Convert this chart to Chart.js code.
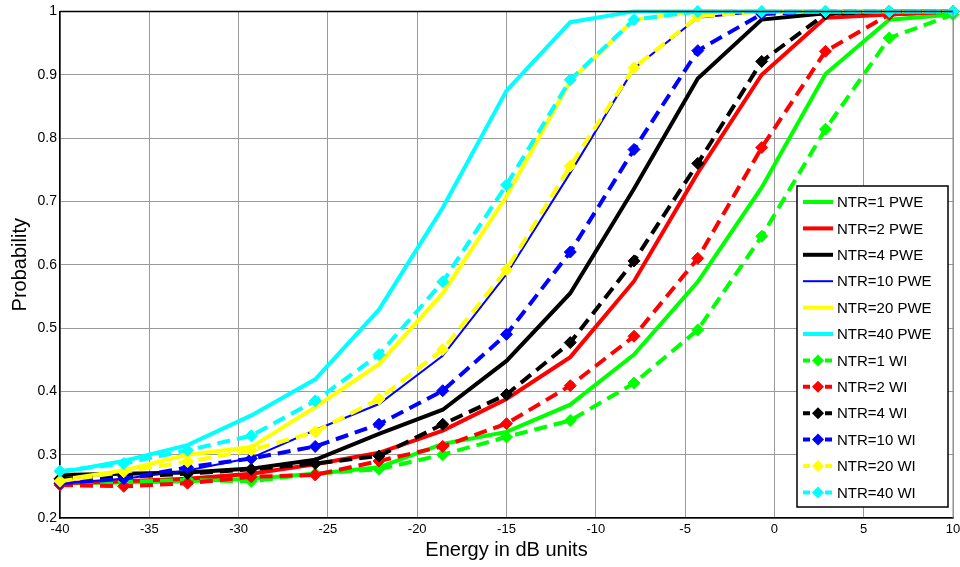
<!DOCTYPE html>
<html>
<head>
<meta charset="utf-8">
<script src="https://cdn.jsdelivr.net/npm/chart.js@4.4.0/dist/chart.umd.min.js"></script>
<style>
  body { margin: 0; background: #fff; }
  #wrap { width: 960px; height: 567px; }
</style>
</head>
<body>
<div id="wrap"><canvas id="chart" width="960" height="567"></canvas></div>
<script>
// x positions (dB)
let energy = [-40, -36.43, -32.86, -29.29, -25.71, -22.14, -18.57, -15, -11.43, -7.86, -4.29, -0.71, 2.86, 6.43, 10];

let xTicks = [-40, -35, -30, -25, -20, -15, -10, -5, 0, 5, 10];
let yTicks = [0.2, 0.3, 0.4, 0.5, 0.6, 0.7, 0.8, 0.9, 1];

// PWE curves (solid)
let pwe1  = [0.255, 0.256, 0.258, 0.262, 0.270, 0.280, 0.317, 0.336, 0.379, 0.458, 0.573, 0.722, 0.901, 0.987, 0.995];
let pwe2  = [0.255, 0.258, 0.262, 0.270, 0.285, 0.303, 0.338, 0.388, 0.454, 0.574, 0.745, 0.900, 0.990, 0.995, 1.0];
let pwe4  = [0.268, 0.270, 0.272, 0.278, 0.292, 0.333, 0.371, 0.448, 0.555, 0.720, 0.894, 0.987, 0.997, 1.0, 1.0];
let pwe10 = [0.255, 0.262, 0.275, 0.295, 0.339, 0.380, 0.456, 0.585, 0.745, 0.910, 0.990, 1.0, 1.0, 1.0, 1.0];
let pwe20 = [0.260, 0.275, 0.300, 0.312, 0.375, 0.443, 0.555, 0.708, 0.890, 0.987, 1.0, 1.0, 1.0, 1.0, 1.0];
let pwe40 = [0.272, 0.290, 0.315, 0.362, 0.419, 0.529, 0.690, 0.875, 0.983, 1.0, 1.0, 1.0, 1.0, 1.0, 1.0];

// WI curves (dashed with diamonds)
let wi1  = [0.255, 0.257, 0.260, 0.258, 0.270, 0.277, 0.300, 0.328, 0.354, 0.413, 0.497, 0.645, 0.814, 0.958, 0.995];
let wi2  = [0.252, 0.250, 0.255, 0.265, 0.268, 0.290, 0.313, 0.349, 0.409, 0.487, 0.610, 0.785, 0.937, 0.995, 1.0];
let wi4  = [0.262, 0.265, 0.270, 0.277, 0.286, 0.298, 0.348, 0.395, 0.477, 0.606, 0.760, 0.921, 0.996, 1.0, 1.0];
let wi10 = [0.255, 0.262, 0.280, 0.294, 0.313, 0.348, 0.401, 0.490, 0.620, 0.782, 0.938, 0.996, 1.0, 1.0, 1.0];
let wi20 = [0.258, 0.273, 0.289, 0.307, 0.336, 0.388, 0.466, 0.592, 0.756, 0.911, 0.992, 1.0, 1.0, 1.0, 1.0];
let wi40 = [0.274, 0.286, 0.307, 0.330, 0.385, 0.458, 0.573, 0.726, 0.892, 0.987, 1.0, 1.0, 1.0, 1.0, 1.0];

let seriesNames = ['NTR=1 PWE', 'NTR=2 PWE', 'NTR=4 PWE', 'NTR=10 PWE', 'NTR=20 PWE', 'NTR=40 PWE',
                   'NTR=1 WI', 'NTR=2 WI', 'NTR=4 WI', 'NTR=10 WI', 'NTR=20 WI', 'NTR=40 WI'];
let seriesData = [pwe1, pwe2, pwe4, pwe10, pwe20, pwe40, wi1, wi2, wi4, wi10, wi20, wi40];
let colors = ['#00ff00', '#ff0000', '#000000', '#0000ff', '#ffff00', '#00ffff'];

let datasets = [];
for (let i = 0; i < seriesData.length; i++) {
    let isWI = i >= 6;
    let color = colors[i % 6];
    datasets.push({
        label: seriesNames[i],
        data: seriesData[i].map((v, k) => ({ x: energy[k], y: v })),
        borderColor: color,
        backgroundColor: color,
        borderWidth: i == 3 ? 2 : 4,
        borderDash: isWI ? [13, 7] : [],
        pointStyle: 'rectRot',
        pointRadius: isWI ? 6 : 0,
        pointHoverRadius: isWI ? 6 : 0,
        pointBorderWidth: 1,
        tension: 0,
        clip: false,
        order: 20 - i
    });
}

// box around the plot + legend inside the axes
const boxAndLegend = {
    id: 'boxAndLegend',
    afterDatasetsDraw(chart) {
        const ctx = chart.ctx;
        const a = chart.chartArea;
        ctx.save();
        ctx.lineWidth = 1.5;
        ctx.strokeStyle = '#000';
        ctx.beginPath();
        ctx.moveTo(a.left, a.top);
        ctx.lineTo(a.right, a.top);
        ctx.stroke();
        ctx.strokeStyle = '#8a8a8a';
        ctx.lineWidth = 1;
        ctx.beginPath();
        ctx.moveTo(a.right, a.top);
        ctx.lineTo(a.right, a.bottom);
        ctx.stroke();

        let lx = 797, ly = 186, lw = 151, lh = 321;
        ctx.fillStyle = '#fff';
        ctx.fillRect(lx, ly, lw, lh);
        ctx.strokeStyle = '#000';
        ctx.lineWidth = 1.5;
        ctx.strokeRect(lx, ly, lw, lh);

        ctx.font = '15px "Liberation Sans", Arial, sans-serif';
        ctx.textBaseline = 'middle';
        for (let i = 0; i < datasets.length; i++) {
            let ds = datasets[i];
            let y = 202 + i * 26.4;
            ctx.strokeStyle = ds.borderColor;
            ctx.lineWidth = ds.borderWidth;
            ctx.setLineDash(i >= 6 ? [7, 4] : []);
            ctx.beginPath();
            ctx.moveTo(803, y);
            ctx.lineTo(833, y);
            ctx.stroke();
            ctx.setLineDash([]);
            if (i >= 6) {
                ctx.fillStyle = ds.borderColor;
                ctx.beginPath();
                ctx.moveTo(818 - 6, y);
                ctx.lineTo(818, y - 6);
                ctx.lineTo(818 + 6, y);
                ctx.lineTo(818, y + 6);
                ctx.closePath();
                ctx.fill();
            }
            ctx.fillStyle = '#000';
            ctx.fillText(ds.label, 837, y + 1);
        }
        ctx.restore();
    }
};

new Chart(document.getElementById('chart'), {
    type: 'line',
    data: { datasets: datasets },
    options: {
        responsive: false,
        animation: false,
        devicePixelRatio: 1,
        layout: { padding: { top: 10, right: 0, left: 0, bottom: 0 } },
        plugins: {
            legend: { display: false },
            tooltip: { enabled: false }
        },
        scales: {
            x: {
                type: 'linear',
                min: -40,
                max: 10,
                afterBuildTicks: (scale) => { scale.ticks = xTicks.map(v => ({ value: v })); },
                afterFit: (scale) => { scale.height = 49; scale.paddingRight = 7; },
                grid: { color: '#9a9a9a', lineWidth: 1, drawTicks: false },
                border: { color: '#000', width: 1.5 },
                ticks: {
                    color: '#000',
                    padding: 4,
                    maxRotation: 0,
                    font: { family: '"Liberation Sans", Arial, sans-serif', size: 13 }
                },
                title: {
                    display: true,
                    text: 'Energy in dB units',
                    color: '#000',
                    padding: { top: 0, bottom: 5 },
                    font: { family: '"Liberation Sans", Arial, sans-serif', size: 20 }
                }
            },
            y: {
                min: 0.2,
                max: 1,
                afterBuildTicks: (scale) => { scale.ticks = yTicks.map(v => ({ value: v })); },
                afterFit: (scale) => { scale.width = 60; },
                grid: { color: '#9a9a9a', lineWidth: 1, drawTicks: false },
                border: { color: '#000', width: 1.5 },
                ticks: {
                    color: '#000',
                    padding: 3,
                    font: { family: '"Liberation Sans", Arial, sans-serif', size: 14 },
                    callback: (v) => String(v)
                },
                title: {
                    display: true,
                    text: 'Probability',
                    color: '#000',
                    padding: { top: 8, bottom: 0 },
                    font: { family: '"Liberation Sans", Arial, sans-serif', size: 20 }
                }
            }
        }
    },
    plugins: [boxAndLegend]
});
</script>
</body>
</html>
